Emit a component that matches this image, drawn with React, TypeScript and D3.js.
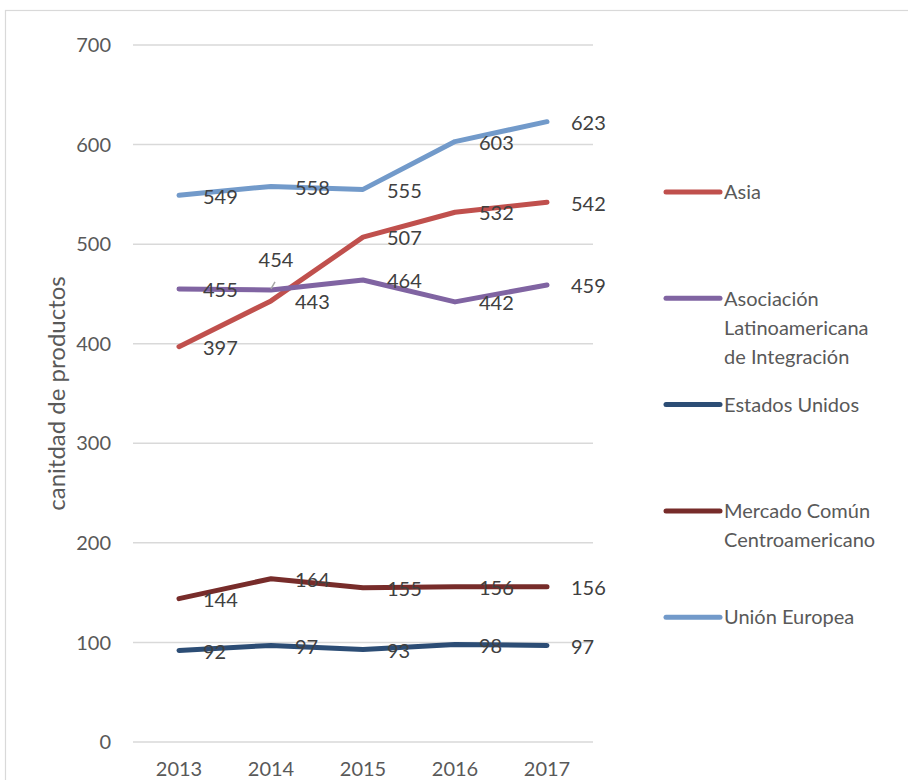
import React from "react";
import * as d3 from "d3";

const years = ["2013", "2014", "2015", "2016", "2017"];
const seriesNames = [
  "Asia",
  "Asociación Latinoamericana de Integración",
  "Estados Unidos",
  "Mercado Común Centroamericano",
  "Unión Europea",
];
const legendLines = [
  ["Asia"],
  ["Asociación", "Latinoamericana", "de Integración"],
  ["Estados Unidos"],
  ["Mercado Común", "Centroamericano"],
  ["Unión Europea"],
];
const asia = [397, 443, 507, 532, 542];
const aladi = [455, 454, 464, 442, 459];
const eeuu = [92, 97, 93, 98, 97];
const mcca = [144, 164, 155, 156, 156];
const ue = [549, 558, 555, 603, 623];
const seriesValues = [asia, aladi, eeuu, mcca, ue];
const colors = ["#C0504D", "#8064A2", "#2C4D75", "#772C2A", "#729ACA"];
const yTicks = [0, 100, 200, 300, 400, 500, 600, 700];
const yTitle = "canitdad de productos";

const FONT = "Lato, 'Open Sans', sans-serif";

export default function App() {
  const W = 908;
  const H = 780;
  const plot = { left: 133, right: 593, top: 45, bottom: 742 };
  const x = d3.scaleBand<string>().domain(years).range([plot.left, plot.right]).padding(0);
  const cx = (yr: string) => (x(yr) as number) + x.bandwidth() / 2;
  const y = d3.scaleLinear().domain([0, 700]).range([plot.bottom, plot.top]);
  const line = d3
    .line<number>()
    .x((_, i) => cx(years[i]))
    .y((v) => y(v));

  const legendX = 666;
  const legendY0 = 192;
  const legendStep = 106.3;
  const legendLineH = 29;

  return (
    <svg
      width={W}
      height={H}
      style={{ position: "absolute", left: 0, top: 0, display: "block", background: "#fff" }}
      fontFamily={FONT}
    >
      <rect x={5.5} y={10.5} width={W + 20} height={H + 20} fill="#fff" stroke="#D9D9D9" strokeWidth={1.2} />
      {yTicks.map((t) => (
        <g key={t}>
          <line x1={plot.left} x2={plot.right} y1={y(t)} y2={y(t)} stroke="#D9D9D9" strokeWidth={1.5} />
          <text x={111} y={y(t)} dy="0.36em" textAnchor="end" fontSize={20} fill="#595959">
            {t}
          </text>
        </g>
      ))}
      {years.map((yr) => (
        <text key={yr} x={cx(yr)} y={769} dy="0.36em" textAnchor="middle" fontSize={20} fill="#595959">
          {yr}
        </text>
      ))}
      <text
        transform={`translate(56,${(plot.top + plot.bottom) / 2}) rotate(-90)`}
        textAnchor="middle"
        dy="0.36em"
        fontSize={24}
        fill="#595959"
      >
        {yTitle}
      </text>
      {seriesValues.map((vals, si) => (
        <path
          key={seriesNames[si]}
          d={line(vals) as string}
          fill="none"
          stroke={colors[si]}
          strokeWidth={5}
          strokeLinecap="round"
          strokeLinejoin="round"
        />
      ))}
      {/* leader line for relocated label */}
      <line
        x1={cx(years[1])}
        y1={y(aladi[1]) - 1}
        x2={cx(years[1]) + 4}
        y2={y(aladi[1]) - 8}
        stroke="#A6A6A6"
        strokeWidth={1.5}
      />
      {seriesValues.map((vals, si) =>
        vals.map((v, i) => {
          const moved = si === 1 && i === 1;
          const px = cx(years[i]);
          const py = y(v);
          return (
            <text
              key={`${si}-${i}`}
              x={moved ? px + 5 : px + 24}
              y={moved ? py - 30 : py + 1}
              dy="0.36em"
              textAnchor={moved ? "middle" : "start"}
              fontSize={20}
              fill="#404040"
            >
              {v}
            </text>
          );
        })
      )}
      {legendLines.map((lines, si) => {
        const ly = legendY0 + si * legendStep;
        return (
          <g key={seriesNames[si]}>
            <line
              x1={legendX}
              x2={legendX + 54}
              y1={ly}
              y2={ly}
              stroke={colors[si]}
              strokeWidth={5}
              strokeLinecap="round"
            />
            {lines.map((t, li) => (
              <text
                key={t}
                x={legendX + 58}
                y={ly + li * legendLineH}
                dy="0.36em"
                fontSize={20}
                fill="#595959"
              >
                {t}
              </text>
            ))}
          </g>
        );
      })}
    </svg>
  );
}
